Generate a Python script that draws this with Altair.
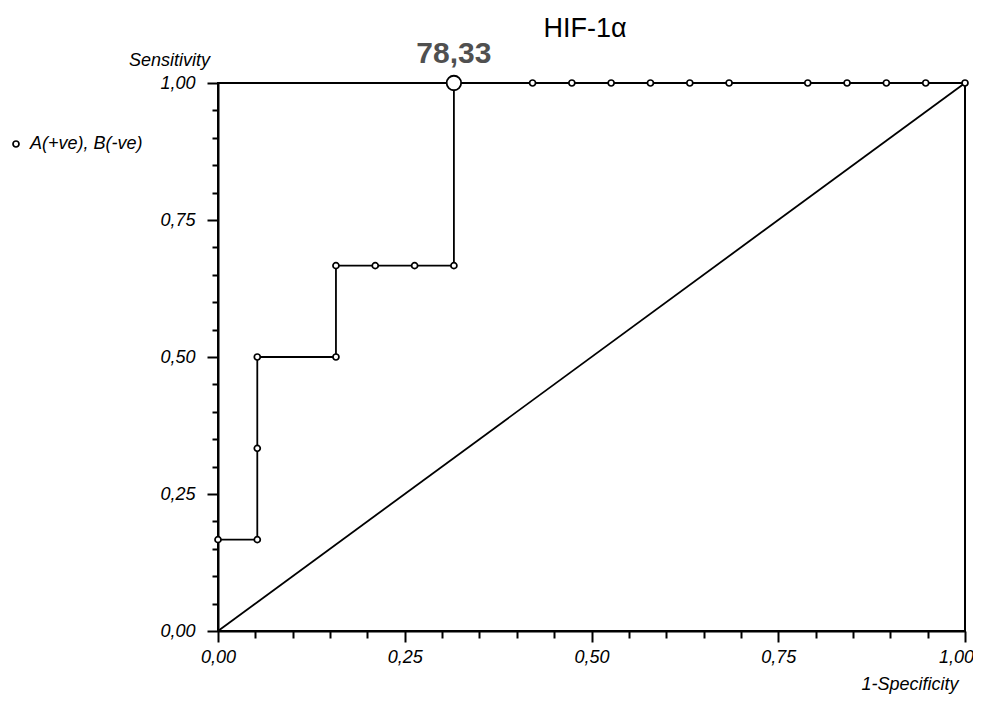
import altair as alt
import pandas as pd

# ROC points (1-Specificity, Sensitivity)
fpr = [0.0, 0.0526, 0.0526, 0.0526, 0.1579, 0.1579, 0.2105, 0.2632, 0.3158, 0.3158,
       0.4211, 0.4737, 0.5263, 0.5789, 0.6316, 0.6842, 0.7895, 0.8421, 0.8947, 0.9474, 1.0]
tpr = [0.1667, 0.1667, 0.3333, 0.5, 0.5, 0.6667, 0.6667, 0.6667, 0.6667, 1.0,
       1.0, 1.0, 1.0, 1.0, 1.0, 1.0, 1.0, 1.0, 1.0, 1.0, 1.0]
series_name = "A(+ve), B(-ve)"
cut_x, cut_y, cut_label = 0.3158, 1.0, "78,33"
diag_x = [0.0, 1.0]
diag_y = [0.0, 1.0]
tick_values = [round(i * 0.05, 2) for i in range(21)]
title_text = "HIF-1α"

FONT = "Liberation Sans"

pts = pd.DataFrame({"x": fpr, "y": tpr, "series": series_name})
line_df = pd.DataFrame({"x": [0.0] + fpr, "y": [0.0] + tpr,
                        "o": list(range(len(fpr) + 1))})
diag = pd.DataFrame({"x": diag_x, "y": diag_y})
cut = pd.DataFrame({"x": [cut_x], "y": [cut_y], "t": [cut_label]})

major_test = "abs(datum.value*4 - round(datum.value*4)) < 0.001"
lab = "abs(datum.value*4 - round(datum.value*4)) < 0.001 ? replace(format(datum.value, '.2f'), '.', ',') : ''"

xscale = alt.Scale(domain=[0, 1], nice=False, zero=False)
yscale = alt.Scale(domain=[0, 1], nice=False, zero=False)

xaxis = alt.Axis(values=tick_values, tickCount=40, labelExpr=lab, grid=False,
                 tickSize={"condition": {"test": major_test, "value": 11}, "value": 7},
                 tickWidth=2, tickColor="black", domainColor="black", domainWidth=2,
                 labelFont=FONT, labelFontSize=18, labelFontStyle="italic",
                 labelColor="black", labelPadding=6, labelOverlap=False,
                 labelFlush=False,
                 labelOffset={"condition": {"test": "datum.value > 0.99", "value": -9}, "value": 0},
                 title="1-Specificity", titleFont=FONT, titleFontSize=18,
                 titleFontStyle="italic", titleFontWeight="normal",
                 titleColor="black", titleAnchor="end", titleAlign="right",
                 titleX=740, titleY=58, titleBaseline="alphabetic")
yaxis = alt.Axis(values=tick_values, tickCount=40, labelExpr=lab, grid=False,
                 tickSize={"condition": {"test": major_test, "value": 11}, "value": 6},
                 tickWidth=2, tickColor="black", domainColor="black", domainWidth=2,
                 labelFont=FONT, labelFontSize=18, labelFontStyle="italic",
                 labelColor="black", labelPadding=12, labelOverlap=False,
                 labelFlush=False,
                 title="Sensitivity", titleFont=FONT, titleFontSize=18,
                 titleFontStyle="italic", titleFontWeight="normal",
                 titleColor="black", titleAngle=0, titleAlign="center",
                 titleX=-49, titleY=-18, titleBaseline="alphabetic")

base_diag = alt.Chart(diag).mark_line(color="black", strokeWidth=1.8).encode(
    x=alt.X("x:Q", scale=xscale, axis=xaxis),
    y=alt.Y("y:Q", scale=yscale, axis=yaxis),
)

roc = alt.Chart(line_df).mark_line(color="black", strokeWidth=1.8).encode(
    x=alt.X("x:Q", scale=xscale),
    y=alt.Y("y:Q", scale=yscale),
    order="o:Q",
)

points = alt.Chart(pts).mark_point(shape="circle", filled=False, fill="white",
                                   fillOpacity=1, size=36, strokeWidth=1.7,
                                   opacity=1).encode(
    x=alt.X("x:Q", scale=xscale),
    y=alt.Y("y:Q", scale=yscale),
    stroke=alt.Stroke("series:N",
                      scale=alt.Scale(domain=[series_name], range=["black"]),
                      legend=alt.Legend(title=None, orient="none", legendX=-211,
                                        legendY=52, padding=0,
                                        symbolType="circle", symbolSize=36,
                                        symbolStrokeWidth=1.7,
                                        symbolFillColor="white",
                                        labelFont=FONT, labelFontSize=18,
                                        labelFontStyle="italic",
                                        labelColor="black", labelOffset=5)),
)

big = alt.Chart(cut).mark_point(shape="circle", filled=False, fill="white",
                                fillOpacity=1, size=210, stroke="black",
                                strokeWidth=1.8, opacity=1).encode(
    x=alt.X("x:Q", scale=xscale),
    y=alt.Y("y:Q", scale=yscale),
)

cut_text = alt.Chart(cut).mark_text(font=FONT, fontSize=30, fontWeight="bold",
                                    color="#505050", dy=-20,
                                    baseline="alphabetic", align="center").encode(
    x=alt.X("x:Q", scale=xscale),
    y=alt.Y("y:Q", scale=yscale),
    text="t:N",
)

title = alt.Chart(pd.DataFrame({"t": [title_text]})).mark_text(
    font=FONT, fontSize=27, color="black", baseline="alphabetic",
    align="center").encode(
    x=alt.value(367), y=alt.value(-46), text="t:N")

chart = alt.layer(base_diag, roc, points, big, cut_text, title).properties(
    width=747, height=548,
    autosize=alt.AutoSizeParams(type="none"),
    padding={"left": 210, "top": 75, "right": 8, "bottom": 63},
    background="white",
).configure_view(stroke="black", strokeWidth=2)

chart.save("out.html", embed_options={"renderer": "svg", "actions": False})
